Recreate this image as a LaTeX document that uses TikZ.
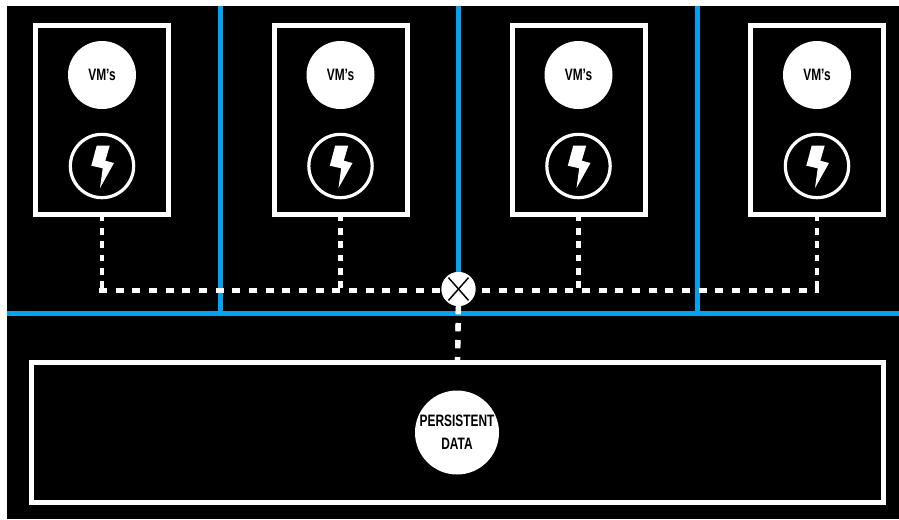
\documentclass[tikz,border=0pt]{standalone}
\usepackage{fontspec}
\setmainfont[FakeStretch=0.72]{Liberation Sans Bold}
\definecolor{lane}{HTML}{00A3F2}
\tikzset{
  px/.style={x=0.75pt,y=-0.75pt},
  frame/.style={draw=white,line width=3.75pt,fill=black,inner sep=0pt,outer sep=0pt,minimum width=99.75pt,minimum height=141.75pt},
  wide/.style={draw=white,line width=3.75pt,fill=black,inner sep=0pt,outer sep=0pt,minimum width=639pt,minimum height=105pt},
  disc/.style={circle,fill=white,text=black,inner sep=0pt,outer sep=0pt,align=center,font=\fontsize{12.4}{17}\selectfont},
  ring/.style={circle,draw=white,line width=2.4pt,fill=black,inner sep=0pt,outer sep=0pt,minimum size=47.5pt},
  lanes/.style={draw=lane,line width=3.75pt},
  hdash/.style={draw=white,line width=3.75pt,dash pattern=on 6pt off 6.5pt},
  vdash/.style={draw=white,line width=3.4pt,dash pattern=on 5pt off 5pt},
  cdash/.style={draw=white,line width=4pt,dash pattern=on 5.5pt off 7.25pt},
  bolt/.style={fill=white,draw=none}
}
\begin{document}
\begin{tikzpicture}[px]
\useasboundingbox (0,0) rectangle (899,519);
\fill[white] (0,0) rectangle (899,519);
\fill[black] (7,6) rectangle (899,519);
% lanes
\coordinate (t1) at (220,6); \coordinate (b1) at (220,313);
\coordinate (t2) at (458.5,6); \coordinate (b2) at (458.5,313);
\coordinate (t3) at (697,6); \coordinate (b3) at (697,313);
\coordinate (hl) at (7,313); \coordinate (hr) at (899,313);
\draw[lanes] (t1) -- (b1);
\draw[lanes] (t2) -- (b2);
\draw[lanes] (t3) -- (b3);
\draw[lanes] (hl) -- (hr);
% hosts
\foreach \i/\cx in {1/102,2/340.5,3/578.5,4/817}{
  \node[frame] (host\i) at (\cx,120) {};
  \node[disc,minimum size=51pt] (vm\i) at (\cx,75) {VM's};
  \node[ring] (pw\i) at (\cx,166) {};
  \fill[bolt] (pw\i.center) ++(-5.3,-20.3) -- ++(13,0) -- ++(-4.4,15) -- ++(8.7,2.3) -- ++(-14,25) -- ++(2.7,-19.7) -- ++(-11.4,-2.6) -- cycle;
  \coordinate (j\i) at (\cx,293);
}
% shared data
\node[wide] (store) at (457.5,432.5) {};
\node[disc,minimum size=63pt] (data) at (457,432.5) {PERSISTENT\\DATA};
% connectors
\node[disc,minimum size=25.5pt,font=\fontsize{1}{1}\selectfont] (hub) at (458.5,289) {};
\coordinate (lstart) at (99,290.5);
\coordinate (rend) at (819,290.5);
\foreach \i in {1,2,3,4}{ \draw[vdash] (host\i.south) -- (j\i); }
\draw[hdash] (lstart) -- (hub.west |- lstart);
\draw[hdash,dash phase=7.65pt] (hub.east |- rend) -- (rend);
\draw[cdash,dash phase=0pt] ([yshift=12pt]hub.south) -- (store.north);
\draw[cdash] (hub.south) -- (store.north);
% hub on top
\node[disc,minimum size=25.5pt] (hubtop) at (hub) {};
\draw[black,line width=1.1pt] ([xshift=-7.5,yshift=-8.5]hub.center) -- ([xshift=7.5,yshift=8.5]hub.center);
\draw[black,line width=1.1pt] ([xshift=7.5,yshift=-8.5]hub.center) -- ([xshift=-7.5,yshift=8.5]hub.center);
\end{tikzpicture}
\end{document}
